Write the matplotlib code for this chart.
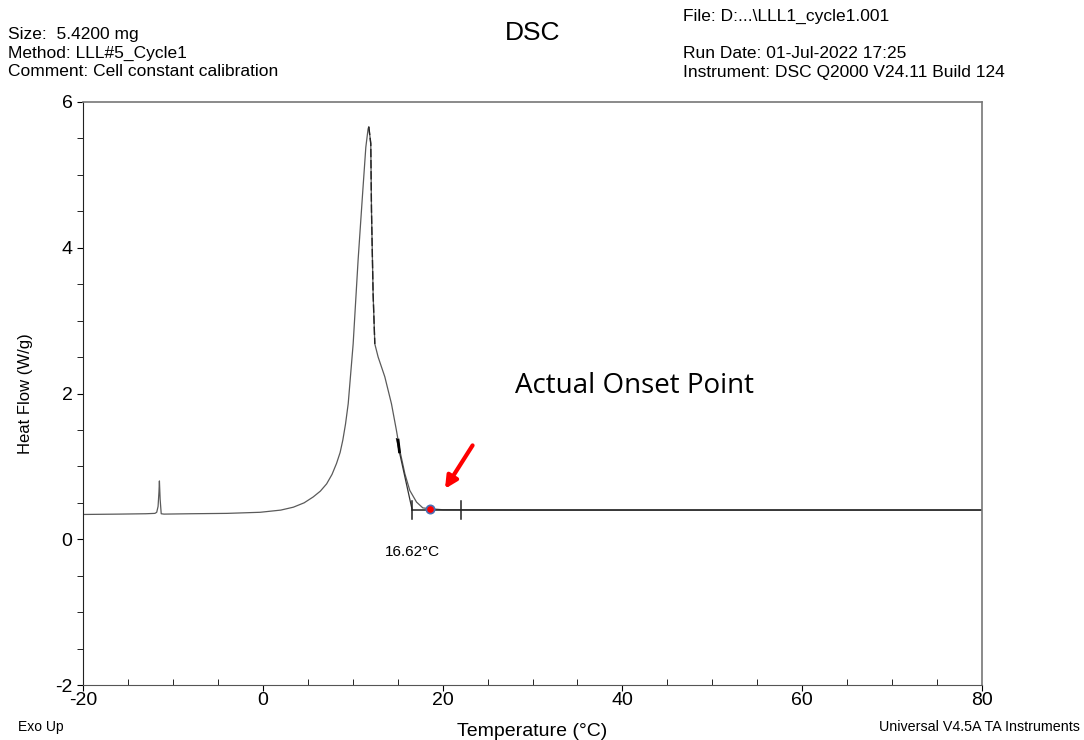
import matplotlib
matplotlib.use("Agg")
import matplotlib.pyplot as plt
from matplotlib.ticker import MultipleLocator

plt.rcParams['font.family'] = ['Liberation Sans', 'DejaVu Sans']
plt.rcParams['axes.unicode_minus'] = False

# heat flow trace (temperature in degC, heat flow in W/g)
temp = [-20.0, -16.0, -13.0, -12.0, -11.8, -11.65, -11.55, -11.5, -11.42, -11.3, -11.0,
        -8.0, -4.0, -0.3, 2.0, 3.4, 4.6, 5.6, 6.4, 7.1, 7.7, 8.2, 8.6, 8.9, 9.2, 9.5,
        10.05, 10.6, 11.1, 11.46, 11.71, 11.79, 12.01, 12.09, 12.27, 12.46, 12.83,
        13.57, 14.31, 14.87, 15.24, 15.8, 16.35, 17.1, 17.8, 18.6, 20.0, 30.0, 50.0,
        70.0, 80.0]
heat_flow = [0.34, 0.345, 0.35, 0.355, 0.37, 0.45, 0.65, 0.80, 0.55, 0.35, 0.345,
             0.35, 0.355, 0.37, 0.40, 0.44, 0.50, 0.58, 0.66, 0.76, 0.89, 1.04, 1.19,
             1.36, 1.58, 1.86, 2.68, 3.83, 4.74, 5.38, 5.63, 5.66, 5.43, 4.51, 3.37,
             2.68, 2.50, 2.23, 1.86, 1.49, 1.22, 0.90, 0.67, 0.51, 0.43, 0.42, 0.405,
             0.40, 0.40, 0.40, 0.40]

# onset analysis
onset_temp = 16.62
onset_label = "16.62°C"
limit_temps = [16.62, 22.0]
baseline_hf = 0.40
tangent_t = [14.87, 16.62]
tangent_hf = [1.38, 0.40]
point_t = 18.6
point_hf = 0.42

fig = plt.figure(figsize=(10.84, 7.4), dpi=100)
ax = fig.add_axes([83 / 1084, 55 / 740, 899 / 1084, 583 / 740])

ax.plot(temp, heat_flow, color='#5a5a5a', lw=0.9)
# right flank of the peak as drawn by the analysis overlay
ax.plot(temp[31:36], heat_flow[31:36], color='#222222', lw=1.0, ls=(0, (6, 2)))
ax.plot(tangent_t, tangent_hf, color='#333333', lw=0.9)
ax.plot([15.05, 15.2], [1.36, 1.20], color='black', lw=2.0)
ax.plot([onset_temp, 80], [baseline_hf, baseline_hf], color='#222222', lw=1.1)
for t in limit_temps:
    ax.plot([t, t], [baseline_hf - 0.12, baseline_hf + 0.12], color='#222222', lw=1.1)
ax.plot(point_t, point_hf, 'o', ms=6, mfc='red', mec='#4a6fb5', mew=1.2)

ax.text(onset_temp, -0.08, onset_label, ha='center', va='top', fontsize=11)
ax.text(28.0, 2.1, "Actual Onset Point", fontsize=20, family=['Open Sans', 'DejaVu Sans'],
        va='center', ha='left')
ax.annotate("", xy=(20.1, 0.66), xytext=(23.5, 1.32),
            arrowprops=dict(arrowstyle='-|>', color='red', lw=3.0, mutation_scale=18))

ax.set_xlim(-20, 80)
ax.set_ylim(-2, 6)
ax.set_xticks([-20, 0, 20, 40, 60, 80])
ax.set_yticks([-2, 0, 2, 4, 6])
ax.xaxis.set_minor_locator(MultipleLocator(5))
ax.yaxis.set_minor_locator(MultipleLocator(0.5))
ax.tick_params(axis='x', which='major', direction='out', length=4, labelsize=14, pad=1)
ax.tick_params(axis='x', which='minor', direction='in', length=4)
ax.tick_params(axis='y', which='both', direction='out', length=4, labelsize=14)
ax.tick_params(top=False, right=False)
for side in ['top', 'right']:
    ax.spines[side].set_color('#777777')
    ax.spines[side].set_linewidth(1.2)
ax.spines['left'].set_color('#222222')
ax.spines['bottom'].set_color('#555555')

ax.set_xlabel("Temperature (°C)", fontsize=14, labelpad=10)
ax.set_ylabel("Heat Flow (W/g)", fontsize=12, labelpad=16)

# header block
fig.text(8 / 1084, 1 - 35 / 740, "Size:  5.4200 mg", fontsize=12.5, va='center')
fig.text(8 / 1084, 1 - 53 / 740, "Method: LLL#5_Cycle1", fontsize=12.5, va='center')
fig.text(8 / 1084, 1 - 72 / 740, "Comment: Cell constant calibration", fontsize=12.5, va='center')
fig.text(533 / 1084, 1 - 33 / 740, "DSC", fontsize=19, ha='center', va='center')
fig.text(683 / 1084, 1 - 16 / 740, "File: D:...\\LLL1_cycle1.001", fontsize=12.5, va='center')
fig.text(683 / 1084, 1 - 53 / 740, "Run Date: 01-Jul-2022 17:25", fontsize=12.5, va='center')
fig.text(683 / 1084, 1 - 72 / 740, "Instrument: DSC Q2000 V24.11 Build 124", fontsize=12.5,
         va='center')
fig.text(18 / 1084, 1 - 727 / 740, "Exo Up", fontsize=10, va='center')
fig.text(1080 / 1084, 1 - 727 / 740, "Universal V4.5A TA Instruments", fontsize=10.3,
         va='center', ha='right')

fig.savefig("out.png", dpi=100)
